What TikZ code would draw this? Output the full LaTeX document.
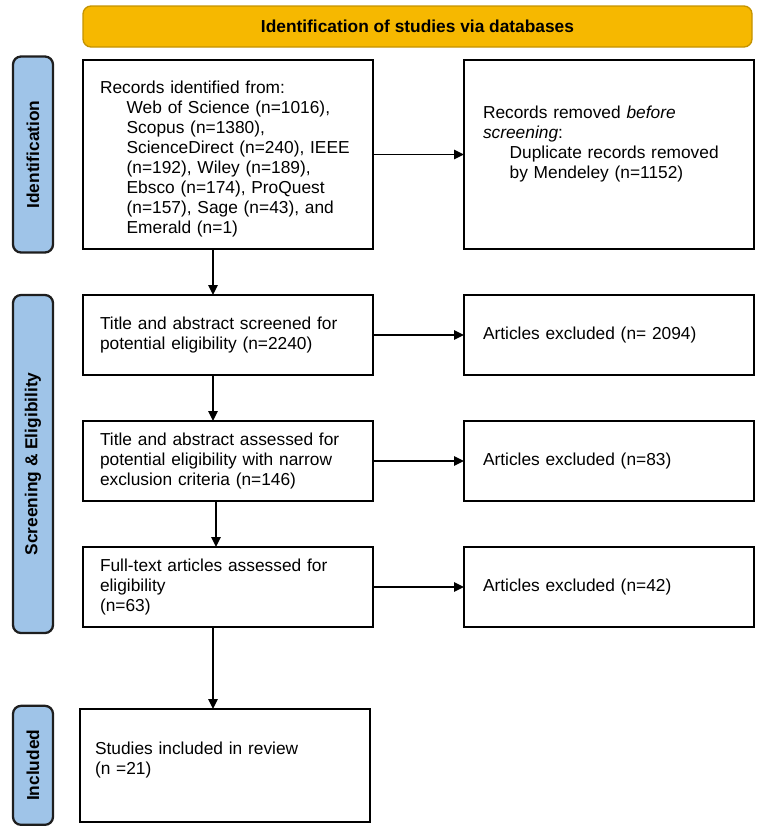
\documentclass[tikz,border=0pt]{standalone}
\usepackage{fontspec}
\setmainfont{Liberation Sans}
\usepackage{graphicx}
\usetikzlibrary{positioning, arrows.meta}
\definecolor{bannerfill}{HTML}{F6B800}
\definecolor{bannerdraw}{HTML}{C49300}
\definecolor{phasefill}{HTML}{9FC4E8}
\definecolor{phasedraw}{HTML}{1E1E1E}

\newcommand{\ind}{\hspace*{20pt}}

\begin{document}
\begin{tikzpicture}[
    font=\fontsize{13}{15}\selectfont,
    every node/.style={align=left},
    box/.style={draw=black, line width=1.7pt, outer sep=0pt, text width=192pt, inner xsep=12.75pt, inner ysep=4pt, minimum width=217.5pt, minimum height=60pt},
    tall/.style={box, minimum height=141.75pt},
    outbox/.style={box, text width=189pt, inner xsep=14.25pt},
    phase/.style={draw=phasedraw, fill=phasefill, line width=1.7pt, outer sep=0pt, rounded corners=6pt, minimum width=30pt, inner sep=0pt, align=center, font=\fontsize{13}{15}\selectfont\bfseries},
    banner/.style={draw=bannerdraw, fill=bannerfill, line width=1pt, outer sep=0pt, rounded corners=6pt, minimum width=501.75pt, minimum height=30.75pt, align=center, font=\fontsize{13}{15}\selectfont\bfseries},
    arr/.style={-{Triangle[length=7.5pt, width=7pt]}, line width=1.2pt},
    node distance=34.5pt and 68.25pt
]
\useasboundingbox (0,0) rectangle (573.75pt,-621.75pt);

% --- Left column: records flow ---
\node[tall, anchor=north west, text depth=101pt] (A) at (62.25pt,-45pt) {Records identified from:\\
    \ind Web of Science (n=1016),\\
    \ind Scopus (n=1380),\\
    \ind ScienceDirect (n=240), IEEE\\
    \ind (n=192), Wiley (n=189),\\
    \ind Ebsco (n=174), ProQuest\\
    \ind (n=157), Sage (n=43), and\\
    \ind Emerald (n=1)};
\node[box, below=of A] (B) {Title and abstract screened for\\potential eligibility (n=2240)};
\node[box, below=of B] (C) {Title and abstract assessed for\\potential eligibility with narrow\\exclusion criteria (n=146)};
\node[box, below=of C] (D) {Full-text articles assessed for\\eligibility\\(n=63)};
\node[box, below=61.5pt of D, xshift=-2.25pt, minimum height=84.5pt, inner xsep=11.25pt, text width=195pt, text depth=26pt] (E) {Studies included in review\\(n =21)};

% --- Right column: exclusions ---
\node[outbox, tall, text width=189pt, inner xsep=14.25pt, text depth=63pt, right=of A] (F) {Records removed \textit{before}\\\textit{screening}:\\
    \ind Duplicate records removed\\
    \ind by Mendeley (n=1152)};
\node[outbox, right=of B] (G) {Articles excluded (n= 2094)};
\node[outbox, right=of C] (H) {Articles excluded (n=83)};
\node[outbox, right=of D] (I) {Articles excluded (n=42)};

% --- Header and phase labels ---
\node[banner, anchor=south west] (T) at ([yshift=9.75pt]A.north west) {Identification of studies via databases};
\node[phase, left=22.5pt of A, minimum height=147pt] (L1) {\rotatebox{90}{Identification}};
\node[phase, left=22.5pt of C, yshift=-2.25pt, minimum height=253.5pt] (L2) {\rotatebox{90}{Screening \& Eligibility}};
\node[phase, left=20.25pt of E, minimum height=89.25pt] (L3) {\rotatebox{90}{Included}};

% --- Edges ---
\draw[arr] (A) -- (F);
\draw[arr] (B) -- (G);
\draw[arr] (C) -- (H);
\draw[arr] (D) -- (I);
\draw[arr] ([xshift=-11.25pt]A.south) -- ([xshift=-11.25pt]B.north);
\draw[arr] ([xshift=-11.25pt]B.south) -- ([xshift=-11.25pt]C.north);
\draw[arr] ([xshift=-9pt]C.south) -- ([xshift=-9pt]D.north);
\draw[arr] ([xshift=-11.25pt]D.south) -- ([xshift=-9pt]E.north);

\end{tikzpicture}
\end{document}
